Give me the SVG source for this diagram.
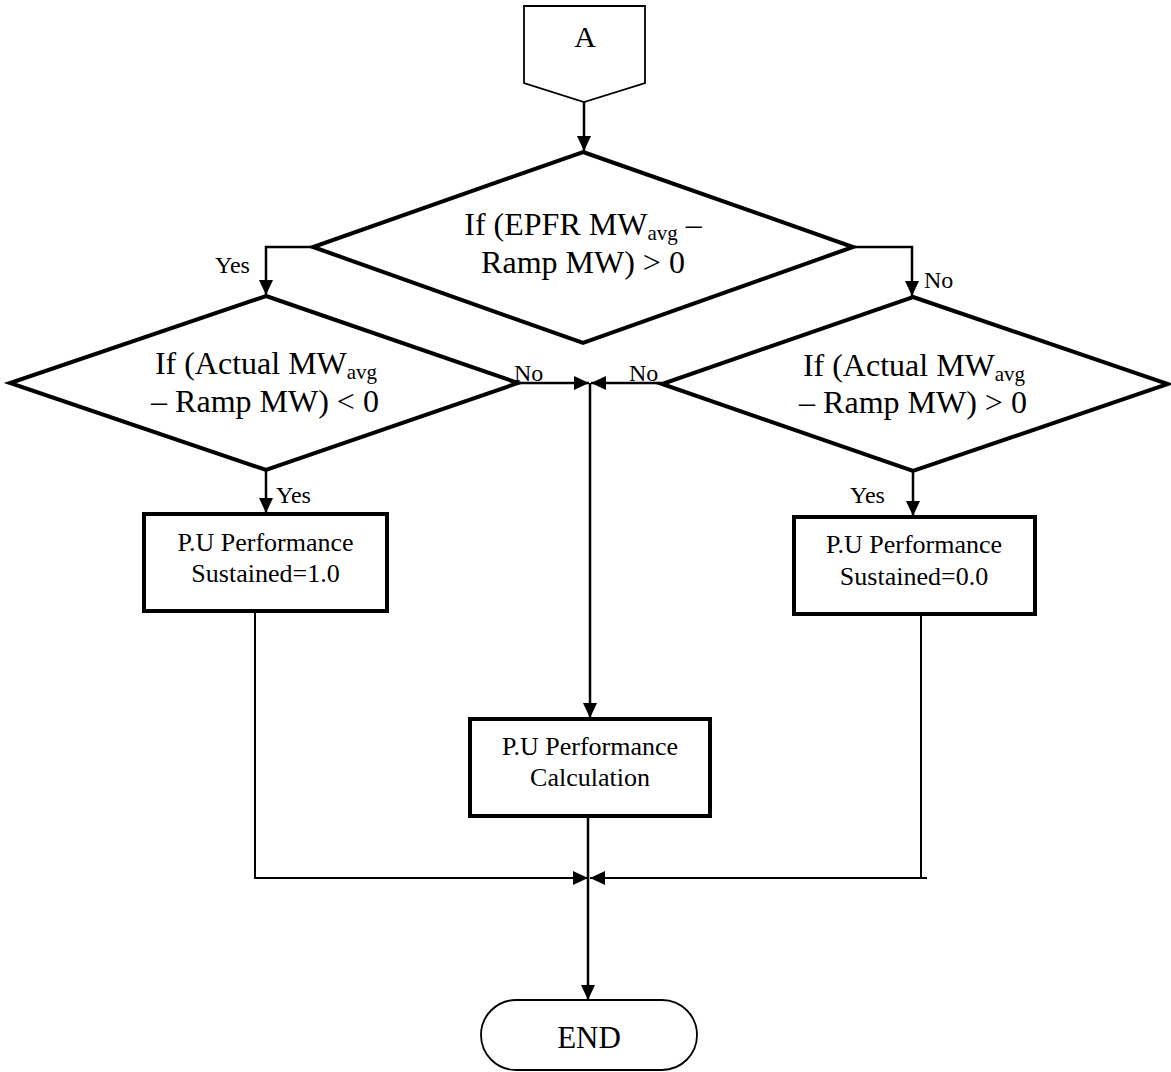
<svg xmlns="http://www.w3.org/2000/svg" width="1171" height="1072" viewBox="0 0 1171 1072">
<style>
text{font-family:"Liberation Serif","Times New Roman",serif;fill:#000;text-anchor:middle}
.t{font-size:32px}
.b{font-size:26px}
.l{font-size:24px;text-anchor:start}
.thick{fill:#fff;stroke:#000;stroke-width:4;stroke-linejoin:miter}
.thin{fill:#fff;stroke:#000;stroke-width:1.8}
.c{fill:none;stroke:#000;stroke-width:2.5}
.c2{fill:none;stroke:#000;stroke-width:2}
</style>
<defs>
<marker id="ah" markerUnits="userSpaceOnUse" markerWidth="16" markerHeight="14" refX="15" refY="7" orient="auto">
<path d="M0,0 L15,7 L0,14 z" fill="#000"/>
</marker>
</defs>
<rect width="1171" height="1072" fill="#fff"/>
<g id="connectors">
<line class="c" x1="584" y1="102" x2="584" y2="151" marker-end="url(#ah)"/>
<polyline class="c" points="313,247 266,247 266,295" marker-end="url(#ah)"/>
<polyline class="c" points="853,247 912,247 912,296" marker-end="url(#ah)"/>
<line class="c" x1="518" y1="383" x2="589" y2="383" marker-end="url(#ah)"/>
<line class="c" x1="662" y1="383" x2="591" y2="383" marker-end="url(#ah)"/>
<line class="c" x1="590" y1="383" x2="590" y2="718" marker-end="url(#ah)"/>
<line class="c" x1="266" y1="470" x2="266" y2="513" marker-end="url(#ah)"/>
<line class="c" x1="913" y1="471" x2="913" y2="516" marker-end="url(#ah)"/>
<polyline class="c2" points="255,611 255,878 588,878" marker-end="url(#ah)"/>
<line class="c2" x1="921" y1="614" x2="921" y2="878"/>
<line class="c2" x1="927" y1="878" x2="590" y2="878" marker-end="url(#ah)"/>
<line class="c" x1="588" y1="816" x2="588" y2="1000" marker-end="url(#ah)"/>
<text class="l" x="215" y="273">Yes</text>
<text class="l" x="924" y="288">No</text>
<text class="l" x="276" y="503">Yes</text>
<text class="l" x="850" y="503">Yes</text>
<text class="l" x="514" y="381">No</text>
<text class="l" x="629" y="381">No</text>
</g>
<g id="connectorA">
<polygon class="thin" points="524,6 645,6 645,83 584,102 524,83"/>
<text x="585" y="47" style="font-size:30px">A</text>
</g>
<g id="decision1">
<polygon class="thick" points="583,152 853,247 583,343 313,247"/>
<text class="t" x="583" y="235">If (EPFR MW<tspan font-size="21" dy="5">avg</tspan><tspan dy="-5"> –</tspan></text>
<text class="t" x="583" y="273">Ramp MW) &gt; 0</text>
</g>
<g id="decision2">
<polygon class="thick" points="266,296 518,383 266,470 10,383"/>
<text class="t" x="266" y="374">If (Actual MW<tspan font-size="21" dy="5">avg</tspan></text>
<text class="t" x="265" y="412">– Ramp MW) &lt; 0</text>
</g>
<g id="decision3">
<polygon class="thick" points="913,297 1168,384 913,471 662,384"/>
<text class="t" x="914" y="376">If (Actual MW<tspan font-size="21" dy="5">avg</tspan></text>
<text class="t" x="913" y="413">– Ramp MW) &gt; 0</text>
</g>
<g id="box1">
<rect class="thick" x="144" y="514" width="243" height="97"/>
<text class="b" x="265.5" y="551">P.U Performance</text>
<text class="b" x="265.5" y="582">Sustained=1.0</text>
</g>
<g id="box3">
<rect class="thick" x="794" y="517" width="241" height="97"/>
<text class="b" x="914" y="553">P.U Performance</text>
<text class="b" x="914" y="585">Sustained=0.0</text>
</g>
<g id="box2">
<rect class="thick" x="470" y="719" width="240" height="97"/>
<text class="b" x="590" y="755">P.U Performance</text>
<text class="b" x="590" y="786">Calculation</text>
</g>
<g id="end">
<rect class="thin" x="481" y="1000" width="216" height="70" rx="35" ry="35"/>
<text x="589" y="1048" style="font-size:31px">END</text>
</g>
</svg>
